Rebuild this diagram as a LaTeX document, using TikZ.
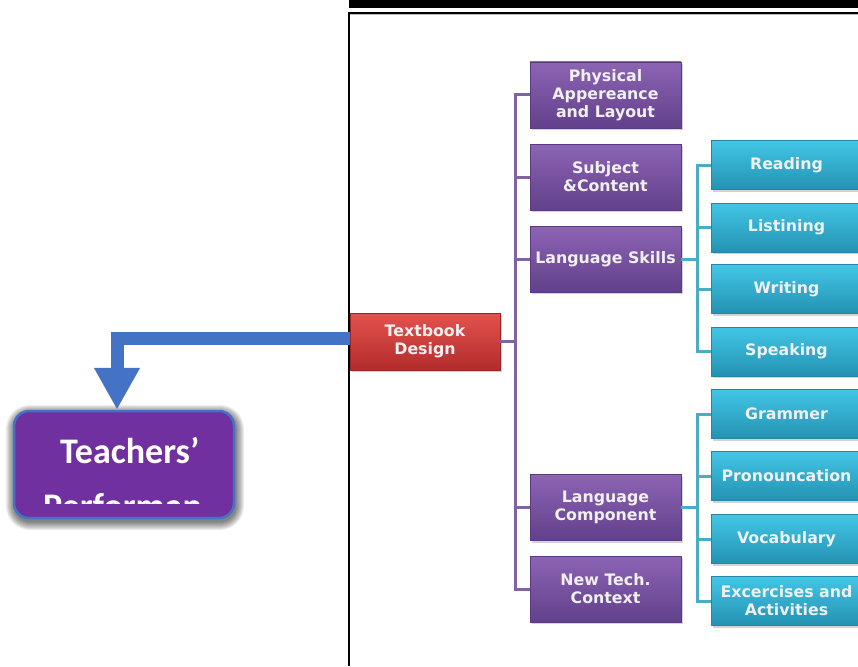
\documentclass[tikz,border=0pt]{standalone}
\usepackage{fontspec}
\usetikzlibrary{shadows,arrows.meta,calc}
\newfontfamily\boxfont{DejaVu Sans}
\newfontfamily\calfont{Carlito}
\definecolor{purT}{HTML}{8C64B4}
\definecolor{purB}{HTML}{62408B}
\definecolor{purD}{HTML}{5A3A80}
\definecolor{redT}{HTML}{E3524F}
\definecolor{redB}{HTML}{B22C2B}
\definecolor{redD}{HTML}{9A2525}
\definecolor{cyaT}{HTML}{42C6E6}
\definecolor{cyaB}{HTML}{2492B2}
\definecolor{cyaD}{HTML}{2585A2}
\definecolor{purLine}{HTML}{8064A2}
\definecolor{cyaLine}{HTML}{4BACC6}
\definecolor{arrowBlue}{HTML}{4472C4}
\definecolor{teachFill}{HTML}{7030A0}
\tikzset{
  boxbase/.style={minimum width=151pt, inner sep=0pt, align=center,
    font=\boxfont\bfseries\fontsize{15.8}{18}\selectfont, text=white!94!black,
    line width=0.6pt,
    drop shadow={opacity=0.35, shadow xshift=1.5pt, shadow yshift=-2pt}},
  purbox/.style={boxbase, minimum height=66pt, draw=purD, top color=purT, bottom color=purB},
  redbox/.style={boxbase, minimum width=150pt, minimum height=57pt, draw=redD, top color=redT, bottom color=redB},
  cyabox/.style={boxbase, minimum height=49pt, draw=cyaD, top color=cyaT, bottom color=cyaB},
  purcon/.style={draw=purLine, line width=3pt},
  cyacon/.style={draw=cyaLine, line width=3pt},
  teach/.style={draw=arrowBlue, line width=2.5pt, fill=teachFill, rounded corners=15pt,
    minimum width=220pt, minimum height=107pt, inner sep=0pt},
  teachtext/.style={anchor=base west, inner sep=0pt, text=white,
    font=\calfont\bfseries\fontsize{36}{40}\selectfont}
}
\begin{document}
\begin{tikzpicture}[x=1pt,y=-1pt]
\useasboundingbox (0,0) rectangle (858,666);
% page frame pieces
\fill[black] (349,0) rectangle (858,8);
\draw[black, line width=1.6pt] (348,13) -- (858,13);
\draw[black!25, line width=0.8pt] (350,14.6) -- (858,14.6);
\draw[black, line width=2pt] (349,12.5) -- (349,666);
% soft shadow of the Teachers' box
\foreach \i in {1,...,9}{
  \fill[black, opacity=0.07, rounded corners=15+\i] (14-\i+1,411-\i+3) rectangle (234+\i+1,518+\i+3);
}
% nodes
\node[teach] (tp) at (124,464.5) {};
\begin{scope}
  \clip (14,411) rectangle (234,503);
  \node[teachtext] (t1) at (60,463) {Teachers’};
  \node[teachtext] (t2) at (43,518) {Performan};
\end{scope}
\node[redbox] (tb) at (425,341.5) {Textbook\\Design};
\node[purbox] (phys) at (605.5,95) {Physical\\Appereance\\and Layout};
\node[purbox] (subj) at (605.5,177) {Subject\\\&Content};
\node[purbox] (lsk) at (605.5,259) {Language Skills};
\node[purbox] (lco) at (605.5,507.5) {Language\\Component};
\node[purbox] (ntc) at (605.5,589) {New Tech.\\Context};
\node[cyabox] (rea) at (786.5,165) {Reading};
\node[cyabox] (lis) at (786.5,227.5) {Listining};
\node[cyabox] (wri) at (786.5,289) {Writing};
\node[cyabox] (spe) at (786.5,351.5) {Speaking};
\node[cyabox] (gra) at (786.5,414) {Grammer};
\node[cyabox] (pro) at (786.5,476) {Pronouncation};
\node[cyabox] (voc) at (786.5,539) {Vocabulary};
\node[cyabox] (exc) at (786.5,601) {Excercises and\\Activities};
% purple tree
\coordinate (pj) at (515,341.5);
\draw[purcon] (tb.east) -- (pj);
\foreach \n in {phys,subj,lsk,lco,ntc}{ \draw[purcon] (pj) |- (\n.west); }
% cyan trees
\coordinate (cj1) at (697,259);
\draw[cyacon] (lsk.east) -- (cj1);
\foreach \n in {rea,lis,wri,spe}{ \draw[cyacon] (cj1) |- (\n.west); }
\coordinate (cj2) at (697,507.5);
\draw[cyacon] (lco.east) -- (cj2);
\foreach \n in {gra,pro,voc,exc}{ \draw[cyacon] (cj2) |- (\n.west); }
% blue arrow
\draw[arrowBlue, line width=13pt, -{Triangle[width=43pt,length=42pt]}]
  ([yshift=3pt]tb.west) -| ([xshift=-7pt]tp.north);
\end{tikzpicture}
\end{document}
